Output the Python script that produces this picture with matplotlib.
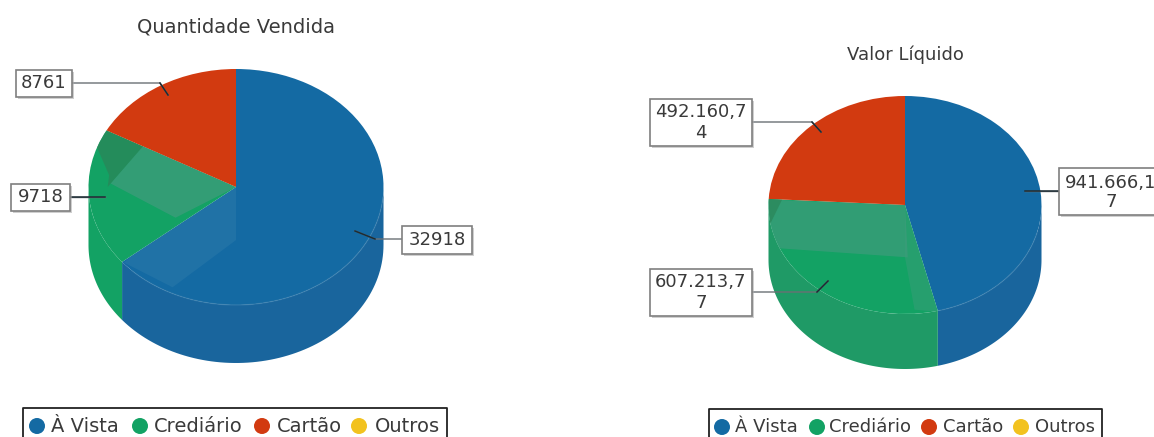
import numpy as np
import matplotlib
matplotlib.use("Agg")
import matplotlib.pyplot as plt
from matplotlib.patches import Wedge, Polygon, Rectangle, Ellipse
from matplotlib.transforms import Affine2D

# Sales figures per payment method
categories = ["À Vista", "Crediário", "Cartão", "Outros"]
quantidade = [32918, 9718, 8761, 0]
valor = [941666.17, 607213.77, 492160.74, 0]
quantidade_labels = ["32918", "9718", "8761"]
valor_labels = ["941.666,1\n7", "607.213,7\n7", "492.160,7\n4"]
colors = ["#146aa3", "#13a264", "#d23a10", "#f2c21f"]
TEXT = "#3a3a3a"

fig = plt.figure(figsize=(11.54, 4.37), dpi=100)
ax = fig.add_axes([0, 0, 1, 1])
ax.set_xlim(0, 1154)
ax.set_ylim(437, 0)
ax.axis("off")


def unit_point(angle):
    """Unit-circle point for a clockwise angle in degrees measured from 12 o'clock."""
    a = np.radians(angle)
    return np.sin(a), -np.cos(a)


def draw_pie(values, cx, cy, rx, ry, depth, side, top):
    total = sum(values)
    edges = np.concatenate([[0], np.cumsum(values) / total * 360])

    # Wall of the cylinder: only the front half (90..270 degrees clockwise) is visible
    for i in range(len(values)):
        lo, hi = max(edges[i], 90), min(edges[i + 1], 270)
        if hi <= lo:
            continue
        t = np.linspace(lo, hi, 80)
        xs, ys = unit_point(t)
        xs, ys = cx + rx * xs, cy + ry * ys
        wall = np.r_[np.c_[xs, ys], np.c_[xs, ys + depth][::-1]]
        ax.add_patch(Polygon(wall, closed=True, fc=side[i], ec="none", zorder=2))

    # Top surface: wedges on a unit circle, stretched onto the ellipse
    patches = []
    to_axes = Affine2D().scale(rx, ry).translate(cx, cy) + ax.transData
    for i in range(len(values)):
        if values[i] == 0:
            continue
        # y grows downward here, so increasing theta runs clockwise on screen
        w = Wedge((0, 0), 1, edges[i] - 90, edges[i + 1] - 90, fc=top[i], ec="none",
                  transform=to_axes, zorder=3)
        ax.add_patch(w)
        patches.append(w)
    return to_axes, patches


def sheen(to_axes, clip, pts, color, alpha):
    """Translucent shading laid over the pie top, clipped to one slice."""
    p = Polygon(pts, closed=True, fc=color, ec="none", alpha=alpha,
                transform=to_axes, zorder=4)
    ax.add_patch(p)
    p.set_clip_path(clip)


def rim(cx, cy, rx, ry, a0, a1):
    t = np.linspace(a0, a1, 80)
    xs, ys = unit_point(t)
    ax.plot(cx + rx * xs, cy + ry * ys, color="#3f82b0", lw=1, alpha=0.5, zorder=5)


def callout(x0, y0, x1, y1, text, leader, size):
    ax.add_patch(Rectangle((x0 + 2, y0 + 2), x1 - x0, y1 - y0, fc="#a8a8a8", ec="none",
                           alpha=0.55, zorder=7))
    ax.add_patch(Rectangle((x0, y0), x1 - x0, y1 - y0, fc="white", ec="#7f7f7f", lw=1.2,
                           zorder=8))
    lx, ly = zip(*leader)
    ax.plot(lx, ly, color="#6a7074", lw=1, zorder=6)
    ax.plot(lx[-2:], ly[-2:], color="#1c2c34", lw=1.1, zorder=6)
    ax.text((x0 + x1) / 2, (y0 + y1) / 2, text, ha="center", va="center", fontsize=size,
            color=TEXT, linespacing=1.15, zorder=9)


def legend(x0, x1, y0, items_x, text_x, size):
    ax.plot([x0, x0, x1, x1], [440, y0, y0, 440], color="#222222", lw=1.3, zorder=5)
    for name, cx_, tx, col in zip(categories, items_x, text_x, colors):
        ax.add_patch(Ellipse((cx_, y0 + 18), 16, 16, fc=col, ec="none", zorder=6))
        ax.text(tx, y0 + 18, name, ha="left", va="center", fontsize=size, color=TEXT, zorder=6)


# ---- Quantidade Vendida ----
tf, tops = draw_pie(quantidade, 236, 187, 147.5, 118, 58,
                    ["#19659d", "#13a264", "#c8380f"], colors)
sheen(tf, tops[1], [(-0.63, -0.35), (0, 0), (-0.41, 0.26), (-0.85, -0.03)], "#3f9c7c", 0.75)
sheen(tf, tops[1], [(-1.02, -0.56), (-0.63, -0.345), (-0.85, -0.03), (-0.87, 0.0), (-0.86, -0.1)],
      "#2a8558", 0.75)
sheen(tf, tops[0], [(-0.76, 0.64), (-0.41, 0.26), (0, 0), (0, 0.45), (-0.43, 0.85)], "#4b8fb5", 0.22)
rim(236, 187, 147.5, 118, 95, 225)
ax.text(236, 27, "Quantidade Vendida", ha="center", va="center", fontsize=14, color=TEXT)
callout(16, 70, 72, 97, quantidade_labels[2], [(72, 83), (160, 83), (168, 95)], 13)
callout(11, 184, 70, 211, quantidade_labels[1], [(70, 197), (105, 197)], 13)
callout(402, 226, 472, 254, quantidade_labels[0], [(402, 239), (375, 239), (355, 231)], 13)
legend(23, 447, 408, [37, 140, 262, 359], [51, 154, 277, 375], 14)

# ---- Valor Líquido ----
tf, tops = draw_pie(valor, 905, 205, 136.5, 109, 55,
                    ["#19659d", "#1f9a66", "#c8380f"], colors)
sheen(tf, tops[1], [(-1.0, -0.05), (0, 0), (0.02, 0.48), (-1.0, 0.39)], "#3f9c7c", 0.7)
sheen(tf, tops[1], [(0, 0), (0.24, 0.98), (0.07, 0.96), (0, 0.48)], "#3f9c7c", 0.45)
sheen(tf, tops[1], [(-1.0, -0.07), (-0.90, -0.05), (-0.99, 0.18)], "#2a8558", 0.7)
rim(905, 205, 136.5, 109, 105, 165)
ax.text(905, 55, "Valor Líquido", ha="center", va="center", fontsize=13, color=TEXT)
callout(650, 99, 752, 146, valor_labels[2], [(752, 122), (812, 122), (821, 132)], 13)
callout(650, 269, 752, 316, valor_labels[1], [(752, 292), (817, 292), (828, 281)], 13)
callout(1059, 168, 1200, 215, "", [(1059, 191), (1025, 191)], 13)
first, second = valor_labels[0].split("\n")
ax.text(1065, 183, first, ha="left", va="center", fontsize=13, color=TEXT, zorder=9, clip_on=True)
ax.text(1111, 202, second, ha="center", va="center", fontsize=13, color=TEXT, zorder=9)
legend(709, 1102, 409, [722, 817, 929, 1021], [735, 829, 943, 1035], 13)

fig.savefig("out.png", dpi=100, facecolor="white")
